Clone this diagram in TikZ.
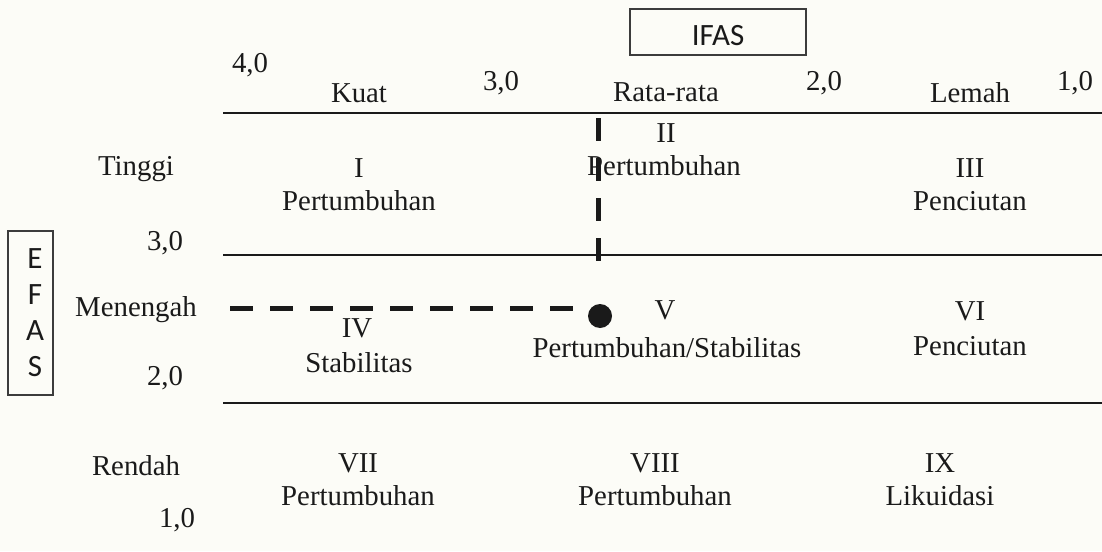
\documentclass[tikz,border=0pt]{standalone}
\usepackage{fontspec}
\setmainfont{Liberation Serif}
\newfontfamily\calfont{Carlito}
\definecolor{ink}{HTML}{1A1A1A}
\definecolor{paper}{HTML}{FCFCF7}
\definecolor{boxgray}{HTML}{3C3C3C}
\begin{document}
\begin{tikzpicture}[x=1pt,y=-1pt,
  lbl/.style={anchor=base, inner sep=0pt, font=\fontsize{28.8}{34}\selectfont, text=ink},
  sanslbl/.style={anchor=base, inner sep=0pt, font=\calfont\fontsize{31}{36}\selectfont, text=ink},
  gridline/.style={line width=2.2pt, draw=ink},
  guide/.style={line width=5pt, draw=ink, dash pattern=on 23pt off 17pt},
  framebox/.style={draw=boxgray, line width=1.1pt}]
% page
\fill[paper] (0,0) rectangle (1102,551);
\useasboundingbox (0,0) rectangle (1102,551);

% IFAS header box
\draw[framebox] (630,9) rectangle (806,55);
\node[sanslbl] (ifas) at (718,46) {IFAS};

% EFAS side box
\draw[framebox] (8,231) rectangle (53,395);
\node[sanslbl] (efasE) at (35,268) {E};
\node[sanslbl] (efasF) at (35,304) {F};
\node[sanslbl] (efasA) at (35,340) {A};
\node[sanslbl] (efasS) at (35,376) {S};

% IFAS scale
\node[lbl] (x40) at (250,72) {4,0};
\node[lbl] (kuat) at (359,102) {Kuat};
\node[lbl] (x30) at (501,90) {3,0};
\node[lbl] (rata) at (666,101) {Rata-rata};
\node[lbl] (x20) at (824,90) {2,0};
\node[lbl] (lemah) at (970,102) {Lemah};
\node[lbl] (x10) at (1075,90) {1,0};

% EFAS scale
\node[lbl] (tinggi) at (136,175) {Tinggi};
\node[lbl] (y30) at (165,250) {3,0};
\node[lbl] (menengah) at (136,316) {Menengah};
\node[lbl] (y20) at (165,385) {2,0};
\node[lbl] (rendah) at (136,475) {Rendah};
\node[lbl] (y10) at (177,527) {1,0};

% grid lines
\coordinate (r1a) at (223,113); \coordinate (r1b) at (1102,113);
\coordinate (r2a) at (223,255); \coordinate (r2b) at (1102,255);
\coordinate (r3a) at (223,403); \coordinate (r3b) at (1102,403);
\draw[gridline] (r1a) -- (r1b);
\draw[gridline] (r2a) -- (r2b);
\draw[gridline] (r3a) -- (r3b);

% cells
\node[lbl] (c1n) at (359,177) {I};
\node[lbl] (c1t) at (359,210) {Pertumbuhan};
\node[lbl] (c2n) at (666,142) {II};
\node[lbl] (c2t) at (664,175) {Pertumbuhan};
\node[lbl] (c3n) at (970,177) {III};
\node[lbl] (c3t) at (970,210) {Penciutan};
\node[lbl] (c4n) at (357,337) {IV};
\node[lbl] (c4t) at (359,372) {Stabilitas};
\node[lbl] (c5n) at (665,319) {V};
\node[lbl] (c5t) at (667,357) {Pertumbuhan/Stabilitas};
\node[lbl] (c6n) at (970,320) {VI};
\node[lbl] (c6t) at (970,355) {Penciutan};
\node[lbl] (c7n) at (358,472) {VII};
\node[lbl] (c7t) at (358,505) {Pertumbuhan};
\node[lbl] (c8n) at (655,472) {VIII};
\node[lbl] (c8t) at (655,505) {Pertumbuhan};
\node[lbl] (c9n) at (940,472) {IX};
\node[lbl] (c9t) at (940,505) {Likuidasi};

% position of the company and its guide lines
\node[circle, fill=ink, minimum size=24pt, inner sep=0pt] (pos) at (600,316) {};
\coordinate (vtop) at (598,118);
\coordinate (vbot) at (598,262);
\coordinate (hleft) at (230,308);
\coordinate (hright) at (573,308);
\draw[guide] (vtop) -- (vbot);
\draw[guide] (hleft) -- (hright);
\end{tikzpicture}
\end{document}
